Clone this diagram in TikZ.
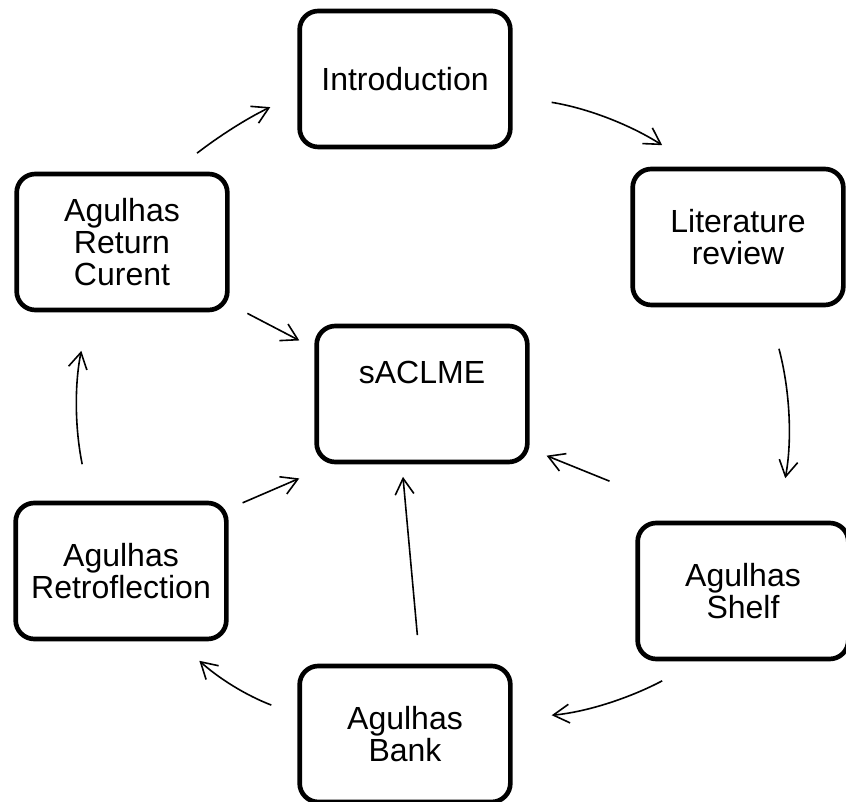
\documentclass[tikz,border=0pt]{standalone}
\usepackage{fontspec}
\setmainfont{Liberation Sans}
\usetikzlibrary{arrows.meta}

\begin{document}
\begin{tikzpicture}[x=0.75pt, y=0.75pt,
box_style/.style={rectangle, draw=black, line width=3.5pt, rounded corners=14pt, minimum width=158pt, minimum height=102pt, align=center, font=\fontsize{24}{24}\selectfont},
arrow_style/.style={-{Straight Barb[length=12pt, width=14pt]}, line width=1.2pt, black},
]

\useasboundingbox (0,0) rectangle (846,802);

\begin{scope}

	\node[box_style] at (405,723) (intro) []{Introduction};
	\node[box_style] at (738,565) (lit) []{Literature\\review};
	\node[box_style] at (743,211) (shelf) []{Agulhas\\Shelf};
	\node[box_style] at (405,68) (bank) []{Agulhas\\Bank};
	\node[box_style] at (121,231) (retro) []{Agulhas\\Retroflection};
	\node[box_style] at (122,560) (arc) []{Agulhas\\Return\\Curent};
	\node[box_style, text depth=33pt] at (422,408) (saclme) []{sACLME};

	% outer cycle
	\draw[arrow_style, shorten <=22.7pt, shorten >=22.5pt] (arc.54.1) to[out=37.7, in=205.7] (intro.188.4);
	\draw[arrow_style, shorten <=29.6pt, shorten >=29.9pt] (intro.-9.3) to[out=-9.2, in=147.4] (lit.121);
	\draw[arrow_style, shorten <=32.2pt, shorten >=32.4pt] (lit.-67) to[out=-75, in=79.4] (shelf.64.9);
	\draw[arrow_style, shorten <=31.3pt, shorten >=29.4pt] (shelf.238.5) to[out=207.9, in=5.3] (bank.8.6);
	\draw[arrow_style, shorten <=20.9pt, shorten >=21.7pt] (bank.170.5) to[out=159.1, in=-42.3] (retro.-51.7);
	\draw[arrow_style, shorten <=27.9pt, shorten >=29.5pt] (retro.114.1) to[out=101.6, in=258.4] (arc.245.5);

	% into the centre
	\draw[arrow_style, shorten <=15pt, shorten >=12.7pt] (arc.-30) -- (saclme.157.4);
	\draw[arrow_style, shorten <=11.4pt, shorten >=26.7pt] (retro.30) -- (saclme.218.2);
	\draw[arrow_style, shorten <=21.5pt, shorten >=9.4pt] (bank.78.5) -- (saclme.254.9);
	\draw[arrow_style, shorten <=79pt, shorten >=13.7pt] (shelf.117.7) -- (saclme.-27.9);

\end{scope}

\end{tikzpicture}
\end{document}
